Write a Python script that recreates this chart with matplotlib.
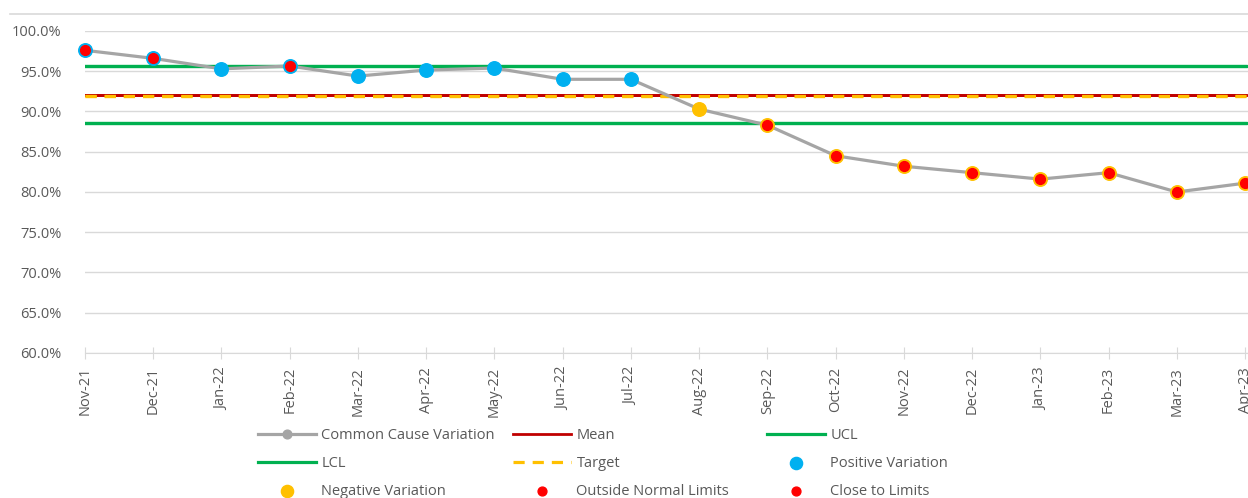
import numpy as np
import matplotlib.pyplot as plt
from matplotlib.lines import Line2D

plt.rcParams['font.family'] = ['Open Sans', 'DejaVu Sans']

months = ['Nov-21', 'Dec-21', 'Jan-22', 'Feb-22', 'Mar-22', 'Apr-22', 'May-22', 'Jun-22', 'Jul-22',
          'Aug-22', 'Sep-22', 'Oct-22', 'Nov-22', 'Dec-22', 'Jan-23', 'Feb-23', 'Mar-23', 'Apr-23']
rate = [97.6, 96.6, 95.3, 95.65, 94.4, 95.15, 95.4, 94.0, 94.0,
        90.3, 88.3, 84.5, 83.2, 82.4, 81.6, 82.4, 80.0, 81.1]
mean_val = 92.1
target_val = 91.95
ucl_val = 95.65
lcl_val = 88.6

# which points get which flag
positive = ['Nov-21', 'Dec-21', 'Jan-22', 'Feb-22', 'Mar-22', 'Apr-22', 'May-22', 'Jun-22', 'Jul-22']
negative = ['Aug-22', 'Sep-22', 'Oct-22', 'Nov-22', 'Dec-22', 'Jan-23', 'Feb-23', 'Mar-23', 'Apr-23']
outside = ['Nov-21', 'Dec-21', 'Oct-22', 'Nov-22', 'Dec-22', 'Jan-23', 'Feb-23', 'Mar-23', 'Apr-23']
close = ['Feb-22', 'Sep-22']

GREY = '#a5a5a5'
GREEN = '#00b050'
DARKRED = '#c00000'
GOLD = '#ffc000'
BLUE = '#00b0f0'
RED = '#ff0000'
TXT = '#595959'
GRID = '#d9d9d9'
FS = 10.5

x = np.arange(len(months))
idx = {m: i for i, m in enumerate(months)}
vals = np.array(rate)

def pick(names):
    ii = [idx[n] for n in names]
    return x[ii], vals[ii]

fig = plt.figure(figsize=(12.48, 4.98), dpi=100)
ax = fig.add_axes([85/1248, 145/498, 1163/1248, 322/498])

ax.set_ylim(60, 100)
ax.set_xlim(0, 1163/68.24)
ax.set_yticks(np.arange(60, 100.1, 5))
ax.set_yticklabels([f'{v:.1f}%' for v in np.arange(60, 100.1, 5)], fontsize=FS, color=TXT)
ax.set_xticks(x)
ax.set_xticklabels(months, rotation=90, fontsize=FS, color=TXT)
ax.grid(axis='y', color=GRID, lw=1)
ax.set_axisbelow(True)
for s in ['top', 'right', 'left']:
    ax.spines[s].set_visible(False)
ax.spines['bottom'].set_color(GRID)
ax.tick_params(axis='y', length=0, pad=17)
ax.tick_params(axis='x', length=8, direction='inout', color=GRID, pad=6)

n = len(months)
ln_ccv, = ax.plot(x, vals, color=GREY, lw=2.3, marker='o', ms=7, zorder=3, clip_on=False,
                  label='Common Cause Variation')
ln_ucl, = ax.plot(x, [ucl_val]*n, color=GREEN, lw=2.3, zorder=2, label='UCL')
ln_lcl, = ax.plot(x, [lcl_val]*n, color=GREEN, lw=2.3, zorder=2, label='LCL')
ax.axhline(ucl_val, color=GREEN, lw=2.3, zorder=2)
ax.axhline(lcl_val, color=GREEN, lw=2.3, zorder=2)
ln_mean, = ax.plot(x, [mean_val]*n, color=DARKRED, lw=2.0, zorder=2, label='Mean')
ax.axhline(mean_val, color=DARKRED, lw=2.0, zorder=2)
ln_tgt, = ax.plot(x, [target_val]*n, color=GOLD, lw=2.3, ls=(0, (3.5, 2.5)), zorder=2, label='Target')
ax.axhline(target_val, color=GOLD, lw=2.3, ls=(0, (3.5, 2.5)), zorder=2)

px, py = pick(positive)
sc_pos = ax.scatter(px, py, s=95, color=BLUE, zorder=4, clip_on=False, label='Positive Variation')
nx, ny = pick(negative)
sc_neg = ax.scatter(nx, ny, s=95, color=GOLD, zorder=4, clip_on=False, label='Negative Variation')
ox, oy = pick(outside)
sc_out = ax.scatter(ox, oy, s=50, color=RED, zorder=5, clip_on=False, label='Outside Normal Limits')
cx, cy = pick(close)
sc_cls = ax.scatter(cx, cy, s=50, color=RED, zorder=5, clip_on=False, label='Close to Limits')

# thin border line above the plot
fig.add_artist(Line2D([10/1248, 1], [1 - 14/498]*2, color=GRID, lw=1.2))

# legend laid out in three columns
cols = [
    ([ln_ccv, ln_lcl, sc_neg], 258),
    ([ln_mean, ln_tgt, sc_out], 513),
    ([ln_ucl, sc_pos, sc_cls], 767),
]
for handles, xpix in cols:
    lg = fig.legend(handles=handles, loc='upper left', bbox_to_anchor=(xpix/1248, 1 - 428/498),
                    frameon=False, fontsize=FS, handlelength=4.0, handletextpad=0.35,
                    labelspacing=0.88, borderpad=0, borderaxespad=0, numpoints=1,
                    scatterpoints=1, markerscale=0.9)
    for t in lg.get_texts():
        t.set_color(TXT)

fig.savefig('out.png', dpi=100)
